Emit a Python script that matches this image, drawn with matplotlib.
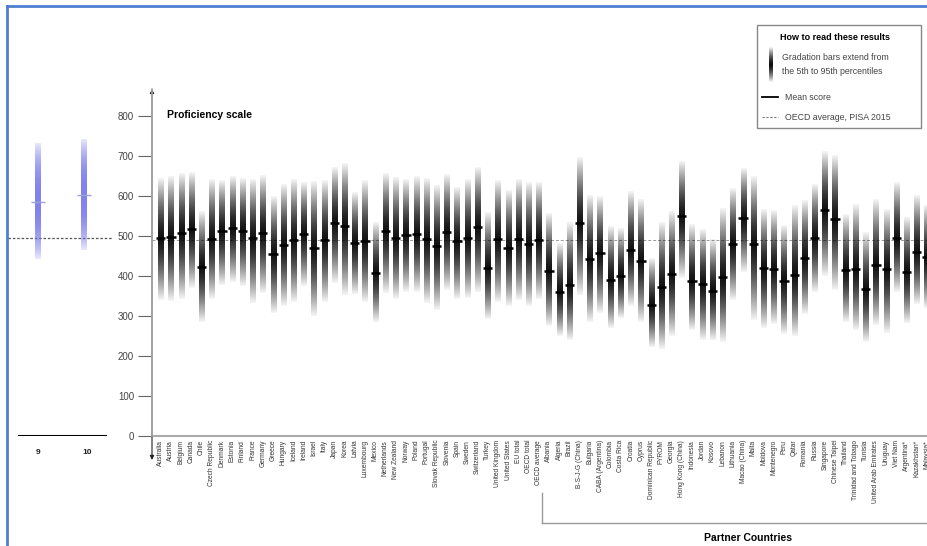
import numpy as np
import matplotlib
matplotlib.use("Agg")
import matplotlib.pyplot as plt
from matplotlib.lines import Line2D
from matplotlib.patches import Rectangle

plt.rcParams['font.family'] = ['Liberation Sans', 'DejaVu Sans']

# PISA 2015 mathematics: mean, 5th and 95th percentiles
countries = [
    "Australia", "Austria", "Belgium", "Canada", "Chile", "Czech Republic", "Denmark",
    "Estonia", "Finland", "France", "Germany", "Greece", "Hungary", "Iceland", "Ireland",
    "Israel", "Italy", "Japan", "Korea", "Latvia", "Luxembourg", "Mexico", "Netherlands",
    "New Zealand", "Norway", "Poland", "Portugal", "Slovak Republic", "Slovenia", "Spain",
    "Sweden", "Switzerland", "Turkey", "United Kingdom", "United States", "EU total",
    "OECD total", "OECD average",
    "Albania", "Algeria", "Brazil", "B-S-J-G (China)", "Bulgaria", "CABA (Argentina)",
    "Colombia", "Costa Rica", "Croatia", "Cyprus", "Dominican Republic", "FYROM",
    "Georgia", "Hong Kong (China)", "Indonesia", "Jordan", "Kosovo", "Lebanon",
    "Lithuania", "Macao (China)", "Malta", "Moldova", "Montenegro", "Peru", "Qatar",
    "Romania", "Russia", "Singapore", "Chinese Taipei", "Thailand", "Trinidad and Tobago",
    "Tunisia", "United Arab Emirates", "Uruguay", "Viet Nam", "Argentina*",
    "Kazakhstan*", "Malaysia*",
]
means = [494, 497, 507, 516, 423, 492, 511, 520, 511, 493, 506, 454, 477, 488, 504,
         470, 490, 532, 524, 482, 486, 408, 512, 495, 502, 504, 492, 475, 510, 486,
         494, 521, 420, 492, 470, 492, 478, 490,
         413, 360, 377, 531, 441, 456, 390, 400, 464, 437, 328, 371, 404, 548, 386,
         380, 362, 396, 478, 544, 479, 420, 418, 387, 402, 444, 494, 564, 542, 415,
         417, 367, 427, 418, 495, 409, 460, 446]
p95 = [643, 648, 656, 656, 562, 639, 639, 649, 641, 639, 649, 598, 627, 639, 633,
       635, 639, 670, 681, 608, 638, 532, 654, 645, 639, 649, 643, 624, 651, 621,
       639, 670, 558, 639, 613, 639, 633, 633,
       554, 479, 532, 695, 599, 598, 521, 516, 610, 589, 443, 532, 560, 685, 527,
       516, 489, 568, 618, 668, 648, 567, 562, 525, 573, 589, 628, 710, 700, 554,
       577, 508, 592, 564, 635, 545, 599, 577]
p5 = [339, 337, 341, 368, 285, 341, 377, 385, 373, 331, 356, 306, 323, 333, 373,
      298, 335, 381, 352, 353, 333, 283, 356, 342, 358, 360, 331, 313, 363, 342,
      343, 358, 291, 335, 325, 338, 323, 341,
      273, 248, 239, 352, 283, 306, 268, 293, 323, 283, 221, 216, 249, 393, 264,
      239, 238, 235, 338, 410, 289, 270, 278, 253, 248, 304, 358, 399, 363, 285,
      264, 235, 277, 256, 360, 281, 328, 320]
oecd_avg = 490
n_oecd = 38

# left comparison panel
grades = ["9", "10"]
grade_means = [585, 602]
grade_p5 = [441, 464]
grade_p95 = [731, 741]
grade_ref = 493

W, H = 927, 546
fig = plt.figure(figsize=(W / 100, H / 100), dpi=100)


def fx(px):
    return px / W


def fy(py):
    return 1 - py / H


y0_px, ytop_px = 435.7, 89.0
px_per_unit = 0.4
ymax = (y0_px - ytop_px) / px_per_unit
ax_bottom = fy(y0_px)
ax_height = fy(ytop_px) - fy(y0_px)


def grad_bar(ax, x, lo, mid, hi, half_w, rgb, a_end, a_mid, power):
    v = np.linspace(lo, hi, 200)
    t = np.where(v < mid, (mid - v) / (mid - lo), (v - mid) / (hi - mid))
    alpha = a_end + (a_mid - a_end) * (1 - t ** power)
    img = np.zeros((len(v), 1, 4))
    img[..., 0], img[..., 1], img[..., 2] = rgb
    img[:, 0, 3] = alpha
    ax.imshow(img, extent=(x - half_w, x + half_w, lo, hi), origin='lower',
              aspect='auto', interpolation='bilinear', zorder=2)


# ---------- main chart ----------
spacing = 10.235
x0_px = 160.7
ax = fig.add_axes([fx(152), ax_bottom, 1 - fx(152), ax_height])
xs = np.arange(len(countries))
for i in xs:
    grad_bar(ax, i, p5[i], means[i], p95[i], 0.25, (0, 0, 0), 0.04, 0.93, 1.4)
ax.hlines(means, xs - 0.45, xs + 0.45, color='black', lw=1.8, zorder=3)
ax.axhline(oecd_avg, color='#9a9a9a', lw=0.7, dashes=(3, 2), zorder=1)

ax.set_xlim((152 - x0_px) / spacing, (927 - x0_px) / spacing)
ax.set_ylim(0, ymax)
ax.set_xticks(xs)
ax.set_xticklabels(countries, rotation=90, fontsize=4.8, color='#333333')
ax.tick_params(axis='x', length=0, pad=3)
ax.set_yticks(np.arange(0, 801, 100))
ax.tick_params(axis='y', length=10, width=0.8, color='#666666', pad=3,
               labelsize=7, labelcolor='#444444')
for s in ['top', 'right', 'left']:
    ax.spines[s].set_visible(False)
ax.spines['bottom'].set_color('#aaaaaa')
ax.spines['bottom'].set_linewidth(1.5)
ax.annotate('', xy=(0, 1.0), xytext=(0, -0.07), xycoords='axes fraction',
            arrowprops=dict(arrowstyle='<|-|>', color='#222222', lw=0.8,
                            mutation_scale=6, shrinkA=0, shrinkB=0))
ax.plot([0, 0], [0, 1], transform=ax.transAxes, color='#aaaaaa', lw=1.2,
        clip_on=False, zorder=4)
ax.text(fx(167), fy(115), "Proficiency scale", transform=fig.transFigure,
        fontsize=7.5, fontweight='bold', va='center', ha='left')

# ---------- left panel ----------
axl = fig.add_axes([0, ax_bottom, fx(120), ax_height])
axl.set_xlim(0, 120)
axl.set_ylim(0, ymax)
axl.axis('off')
gx = [37.7, 84.0]
for k in range(len(grades)):
    grad_bar(axl, gx[k], grade_p5[k], grade_means[k], grade_p95[k], 3.0,
             (0.42, 0.42, 0.92), 0.15, 0.85, 2.5)
    axl.hlines(grade_means[k], gx[k] - 7, gx[k] + 7, color='#9aa4d8', lw=1.0, zorder=3)
    axl.text([37.7, 87.0][k], -43, grades[k], ha='center', va='center',
             fontsize=6, fontweight='bold', color='#222222')
axl.plot([8, 113], [grade_ref, grade_ref], color='#555555', lw=0.9, dashes=(2, 1.5), zorder=1)
axl.plot([19, 106], [0, 0], color='black', lw=1.5)

# ---------- partner bracket ----------
fig.add_artist(Line2D([fx(542), fx(542)], [fy(493), fy(523)], color='#999999', lw=1))
fig.add_artist(Line2D([fx(542), fx(927)], [fy(523), fy(523)], color='#999999', lw=1))
fig.text(fx(748), fy(538), "Partner Countries", ha='center', va='center',
         fontsize=7.5, fontweight='bold')

# ---------- legend box ----------
fig.add_artist(Rectangle((fx(757), fy(128)), fx(921) - fx(757), fy(25) - fy(128),
                         transform=fig.transFigure, fill=False, ec='#888888', lw=1))
fig.text(fx(780), fy(38), "How to read these results", fontsize=6.5,
         fontweight='bold', va='center', ha='left')
fig.text(fx(782), fy(58), "Gradation bars extend from", fontsize=6.3,
         color='#444444', va='center', ha='left')
fig.text(fx(782), fy(71), "the 5th to 95th percentiles", fontsize=6.3,
         color='#444444', va='center', ha='left')
axg = fig.add_axes([fx(769), fy(82), fx(4), fy(47) - fy(82)])
axg.axis('off')
grad_bar(axg, 0.5, 0, 0.5, 1, 0.5, (0, 0, 0), 0.03, 0.95, 1.4)
axg.set_xlim(0, 1)
axg.set_ylim(0, 1)
fig.add_artist(Line2D([fx(762), fx(778)], [fy(97), fy(97)], color='black', lw=1.3))
fig.text(fx(785), fy(97), "Mean score", fontsize=6.3, color='#444444', va='center', ha='left')
fig.add_artist(Line2D([fx(762), fx(778)], [fy(117), fy(117)], color='#777777', lw=0.8,
                      dashes=(2, 1.5)))
fig.text(fx(785), fy(117), "OECD average, PISA 2015", fontsize=6.3, color='#444444',
         va='center', ha='left')

# ---------- blue frame ----------
fig.add_artist(Line2D([fx(7), fx(7)], [fy(6), 0], color='#4f7fd0', lw=2))
fig.add_artist(Line2D([fx(7), 1], [fy(6), fy(6)], color='#4f7fd0', lw=2))

fig.savefig("out.png", dpi=100)
